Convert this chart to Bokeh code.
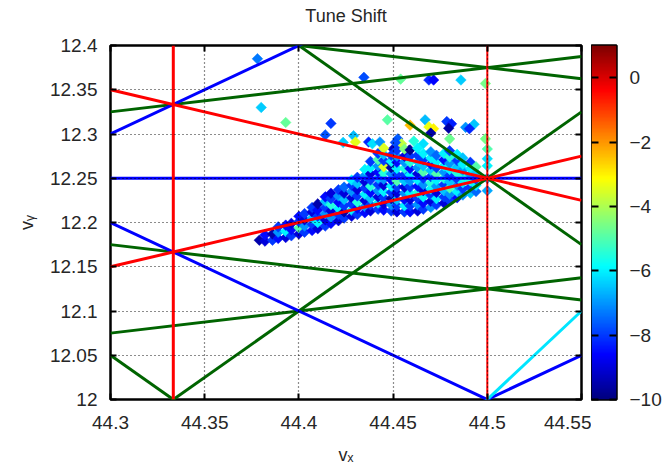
import numpy as np
from bokeh.plotting import figure
from bokeh.layouts import row, column
from bokeh.models import LinearColorMapper, FixedTicker, LinearAxis, ColumnDataSource
from bokeh.core.properties import value
from bokeh.embed import file_html
from bokeh.resources import INLINE

# ---------------- data ----------------
title_text = "Tune Shift"
x_ticks = [44.3, 44.35, 44.4, 44.45, 44.5, 44.55]
x_tick_labels = ["44.3", "44.35", "44.4", "44.45", "44.5", "44.55"]
y_ticks = [12.0, 12.05, 12.1, 12.15, 12.2, 12.25, 12.3, 12.35, 12.4]
y_tick_labels = ["12", "12.05", "12.1", "12.15", "12.2", "12.25", "12.3", "12.35", "12.4"]
cbar_ticks = [0, -2, -4, -6, -8, -10]
shift_low, shift_high = -10, 1

# resonance lines  a*nu_x + b*nu_y = c
res_a = [1, 1, 3, 3, 3, 1, 1, 1, 2, 2, 0, 2, 1, 1, 3, 2]
res_b = [-4, 4, 2, -2, 2, 4, -4, -1, 2, -2, 4, -1, 2, -2, 0, 0]
res_c = [-5, 94, 158, 109, 157, 93, -4, 32, 113, 65, 49, 77, 69, 20, 133, 89]
# styles for each resonance line (kept apart from the data)
res_color = ["#006400"] * 7 + ["#0000ff"] * 4 + ["#00e5ff"] + ["#ff0000"] * 4
res_width = [3] * 15 + [2]

# tracked particles: tune x, tune y, amplitude-dependent shift
tune_x = [
    44.378, 44.4345, 44.380, 44.393, 44.417, 44.414, 44.429, 44.430, 44.437, 44.439,
    44.443, 44.454, 44.469, 44.4715, 44.486, 44.499, 44.447, 44.459, 44.467, 44.469,
    44.4715, 44.470, 44.4785, 44.481, 44.4795, 44.4885, 44.493, 44.4905, 44.499, 44.480,
    44.4525, 44.4545, 44.450, 44.4585, 44.461, 44.466, 44.4512, 44.4235, 44.4475, 44.4440,
    44.379,
    44.382, 44.382,
    44.386, 44.386,
    44.389, 44.389, 44.389,
    44.393, 44.393, 44.393,
    44.396, 44.396, 44.396,
    44.400, 44.400, 44.400, 44.400,
    44.403, 44.403, 44.403, 44.403,
    44.407, 44.407, 44.407, 44.407, 44.407,
    44.410, 44.410, 44.410, 44.410, 44.410,
    44.414, 44.414, 44.414, 44.414, 44.414, 44.414,
    44.417, 44.417, 44.417, 44.417, 44.417, 44.417,
    44.421, 44.421, 44.421, 44.421, 44.421, 44.421,
    44.424, 44.424, 44.424, 44.424, 44.424, 44.424,
    44.428, 44.428, 44.428, 44.428, 44.428, 44.428, 44.428,
    44.431, 44.431, 44.431, 44.431, 44.431, 44.431, 44.431,
    44.435, 44.435, 44.435, 44.435, 44.435, 44.435, 44.435, 44.435,
    44.438, 44.438, 44.438, 44.438, 44.438, 44.438, 44.438, 44.438, 44.438,
    44.442, 44.442, 44.442, 44.442, 44.442, 44.442, 44.442, 44.442, 44.442, 44.442,
    44.445, 44.445, 44.445, 44.445, 44.445, 44.445, 44.445, 44.445, 44.445, 44.445, 44.445,
    44.449, 44.449, 44.449, 44.449, 44.449, 44.449, 44.449, 44.449, 44.449, 44.449,
    44.452, 44.452, 44.452, 44.452, 44.452, 44.452, 44.452, 44.452, 44.452, 44.452, 44.452,
    44.456, 44.456, 44.456, 44.456, 44.456, 44.456, 44.456, 44.456, 44.456, 44.456, 44.456,
    44.459, 44.459, 44.459, 44.459, 44.459, 44.459, 44.459, 44.459, 44.459, 44.459, 44.459,
    44.463, 44.463, 44.463, 44.463, 44.463, 44.463, 44.463, 44.463, 44.463, 44.463, 44.463,
    44.466, 44.466, 44.466, 44.466, 44.466, 44.466, 44.466, 44.466, 44.466, 44.466,
    44.470, 44.470, 44.470, 44.470, 44.470, 44.470, 44.470, 44.470, 44.470, 44.470,
    44.473, 44.473, 44.473, 44.473, 44.473, 44.473, 44.473, 44.473, 44.473,
    44.477, 44.477, 44.477, 44.477, 44.477, 44.477, 44.477, 44.477, 44.477,
    44.480, 44.480, 44.480, 44.480, 44.480, 44.480, 44.480, 44.480, 44.480,
    44.484, 44.484, 44.484, 44.484, 44.484, 44.484, 44.484, 44.484,
    44.487, 44.487, 44.487, 44.487, 44.487, 44.487, 44.487,
    44.491, 44.491, 44.491, 44.491, 44.491, 44.491,
    44.494, 44.494, 44.494, 44.494, 44.494,
    44.500, 44.500, 44.500, 44.500, 44.500,
]
tune_y = [
    12.385, 12.364, 12.330, 12.313, 12.312, 12.299, 12.298, 12.291, 12.291, 12.289,
    12.291, 12.362, 12.361, 12.361, 12.361, 12.357, 12.316, 12.310, 12.316, 12.308,
    12.306, 12.301, 12.314, 12.3115, 12.3065, 12.3075, 12.311, 12.306, 12.2945, 12.2945,
    12.2945, 12.289, 12.283, 12.2815, 12.292, 12.289, 12.2905, 12.2905, 12.2665, 12.2625,
    12.180,
    12.179, 12.186,
    12.180, 12.187,
    12.182, 12.189, 12.195,
    12.183, 12.190, 12.197,
    12.185, 12.192, 12.199,
    12.187, 12.194, 12.201, 12.207,
    12.189, 12.196, 12.203, 12.210,
    12.191, 12.198, 12.205, 12.212, 12.217,
    12.193, 12.200, 12.207, 12.214, 12.221,
    12.196, 12.203, 12.210, 12.217, 12.224, 12.229,
    12.199, 12.206, 12.213, 12.220, 12.227, 12.233,
    12.202, 12.209, 12.216, 12.223, 12.230, 12.237,
    12.205, 12.212, 12.219, 12.226, 12.233, 12.240,
    12.207, 12.214, 12.221, 12.228, 12.235, 12.242, 12.248,
    12.209, 12.216, 12.223, 12.230, 12.237, 12.244, 12.251,
    12.211, 12.218, 12.225, 12.232, 12.239, 12.246, 12.253, 12.260,
    12.213, 12.220, 12.227, 12.234, 12.241, 12.248, 12.255, 12.262, 12.269,
    12.215, 12.222, 12.229, 12.236, 12.243, 12.250, 12.257, 12.264, 12.271, 12.278,
    12.214, 12.221, 12.228, 12.235, 12.242, 12.249, 12.256, 12.263, 12.270, 12.277, 12.284,
    12.213, 12.220, 12.227, 12.234, 12.241, 12.248, 12.255, 12.262, 12.269, 12.276,
    12.212, 12.219, 12.226, 12.233, 12.240, 12.247, 12.254, 12.261, 12.268, 12.275, 12.282,
    12.212, 12.219, 12.226, 12.233, 12.240, 12.247, 12.254, 12.261, 12.268, 12.275, 12.283,
    12.212, 12.219, 12.226, 12.233, 12.240, 12.247, 12.254, 12.261, 12.268, 12.275, 12.282,
    12.213, 12.220, 12.227, 12.234, 12.241, 12.248, 12.255, 12.262, 12.269, 12.276, 12.284,
    12.215, 12.222, 12.229, 12.236, 12.243, 12.250, 12.257, 12.264, 12.271, 12.278,
    12.217, 12.224, 12.231, 12.238, 12.245, 12.252, 12.259, 12.266, 12.273, 12.280,
    12.220, 12.227, 12.234, 12.241, 12.248, 12.255, 12.262, 12.269, 12.276,
    12.222, 12.229, 12.236, 12.243, 12.250, 12.257, 12.264, 12.271, 12.278,
    12.225, 12.232, 12.239, 12.246, 12.253, 12.260, 12.267, 12.274, 12.281,
    12.228, 12.235, 12.242, 12.249, 12.256, 12.263, 12.270, 12.277,
    12.231, 12.238, 12.245, 12.252, 12.259, 12.266, 12.273,
    12.233, 12.240, 12.247, 12.254, 12.261, 12.268,
    12.235, 12.242, 12.249, 12.256, 12.263,
    12.236, 12.250, 12.264, 12.272, 12.283,
]
shift = [
    -7.3, -7.8, -6.4, -4.8, -8.0, -7.7, -6.6, -3.4, -8.2, -6.2,
    -7.0, -4.8, -8.2, -8.6, -6.4, -4.6, -4.9, -2.4, -6.6, -3.3,
    -3.0, -9.6, -8.0, -8.3, -9.6, -7.0, -6.5, -8.2, -4.6, -4.7,
    -7.6, -3.8, -9.2, -9.8, -5.5, -6.2, -7.8, -6.4, -9.4, -3.2,
    -9.5,
    -9.0, -8.5,
    -8.0, -9.5,
    -8.5, -7.0, -8.0,
    -9.0, -6.0, -8.5,
    -8.0, -8.5, -9.0,
    -9.0, -5.0, -8.0, -8.5,
    -8.0, -7.0, -9.0, -8.0,
    -8.5, -8.0, -6.5, -9.0, -8.0,
    -9.0, -6.0, -8.0, -8.5, -9.5,
    -8.0, -9.0, -7.0, -8.0, -6.5, -8.5,
    -8.5, -7.0, -9.0, -5.5, -8.0, -9.0,
    -9.0, -8.0, -6.0, -8.5, -7.0, -8.0,
    -8.0, -9.5, -8.0, -6.5, -9.0, -7.5,
    -9.0, -6.0, -8.0, -9.0, -7.0, -8.0, -6.0,
    -8.0, -8.5, -5.5, -8.0, -9.0, -6.5, -8.0,
    -8.5, -7.0, -9.0, -6.0, -8.0, -9.0, -7.0, -6.0,
    -9.0, -8.0, -6.5, -8.5, -5.5, -8.0, -9.0, -6.0, -8.0,
    -8.0, -6.0, -9.0, -7.0, -8.0, -6.5, -8.5, -7.0, -5.0, -8.0,
    -8.5, -9.0, -8.0, -6.0, -9.0, -7.0, -5.5, -3.5, -8.0, -6.5, -3.5,
    -8.0, -7.0, -9.5, -8.0, -6.0, -8.5, -7.0, -9.5, -6.0, -8.0,
    -9.0, -8.0, -6.5, -9.0, -8.0, -5.0, -8.0, -6.0, -8.5, -7.0, -8.0,
    -8.0, -6.0, -8.5, -7.0, -9.0, -6.5, -8.0, -5.5, -7.0, -9.0, -4.5,
    -8.5, -8.0, -9.0, -6.0, -8.0, -7.0, -6.0, -8.5, -5.5, -8.0, -9.8,
    -9.0, -7.0, -8.0, -5.5, -8.5, -6.0, -9.0, -7.0, -6.5, -8.0, -6.0,
    -8.0, -8.5, -6.0, -9.0, -7.0, -8.0, -5.0, -6.5, -8.0, -6.0,
    -7.0, -9.0, -8.0, -6.0, -5.5, -8.0, -6.5, -8.5, -6.0, -7.0,
    -8.0, -6.0, -9.0, -7.0, -6.0, -5.0, -8.0, -6.0, -7.5,
    -9.0, -8.0, -6.5, -8.0, -5.5, -7.0, -6.0, -8.5, -6.0,
    -8.0, -7.0, -5.0, -6.5, -8.0, -6.0, -7.0, -5.5, -8.0,
    -8.5, -6.0, -7.0, -8.0, -5.5, -6.5, -8.0, -6.0,
    -7.0, -8.0, -6.0, -5.5, -7.0, -6.0, -6.5,
    -6.5, -8.0, -5.5, -7.0, -6.0, -8.0,
    -7.5, -6.0, -8.0, -6.5, -5.0,
    -6.8, -7.0, -6.0, -6.2, -5.0,
]

# ---------------- look ----------------
FONT = "Liberation Sans"
TXT = "#262626"
TICK_FS = "19px"
TITLE_H = 30

x_lo, x_hi = x_ticks[0], x_ticks[-1]
y_lo, y_hi = y_ticks[0], y_ticks[-1]

# jet colour map
t = np.linspace(0, 1, 256)
r = np.clip(1.5 - np.abs(4 * t - 3), 0, 1)
g = np.clip(1.5 - np.abs(4 * t - 2), 0, 1)
b = np.clip(1.5 - np.abs(4 * t - 1), 0, 1)
jet = ["#%02x%02x%02x" % (int(rr * 255), int(gg * 255), int(bb * 255))
       for rr, gg, bb in zip(r, g, b)]
mapper = LinearColorMapper(palette=jet, low=shift_low, high=shift_high)

# ---------------- title strip ----------------
tf = figure(width=670, height=TITLE_H, x_range=(0, 670), y_range=(0, TITLE_H),
            output_backend="svg", toolbar_location=None, title=None,
            min_border=0, x_axis_location=None, y_axis_location=None)
tf.grid.visible = False
tf.outline_line_color = None
tf.text(x=[345.5], y=[TITLE_H / 2], text=[title_text], text_align="center",
        text_baseline="middle", text_font=value(FONT), text_font_size="18px",
        text_color=TXT)

# ---------------- main plot ----------------
p = figure(width=591, height=473 - TITLE_H, x_range=(x_lo, x_hi), y_range=(y_lo, y_hi),
           output_backend="svg", toolbar_location=None, title=None,
           min_border_left=110, min_border_right=10,
           min_border_top=45 - TITLE_H, min_border_bottom=74)
p.background_fill_color = "white"
p.border_fill_color = "white"
p.outline_line_color = "black"
p.outline_line_width = 2.5

# particles
src = ColumnDataSource(dict(x=tune_x, y=tune_y, s=shift))
p.scatter("x", "y", source=src, marker="square", angle=np.pi / 4, size=7.5,
          fill_color={"field": "s", "transform": mapper},
          line_color={"field": "s", "transform": mapper}, line_width=0.5)

# resonance lines
x0s, y0s, x1s, y1s = [], [], [], []
for a_, b_, c_ in zip(res_a, res_b, res_c):
    if b_ == 0:
        xv = c_ / a_
        x0s.append(xv); x1s.append(xv); y0s.append(y_lo); y1s.append(y_hi)
    else:
        x0s.append(x_lo); x1s.append(x_hi)
        y0s.append((c_ - a_ * x_lo) / b_); y1s.append((c_ - a_ * x_hi) / b_)
p.segment(x0s, y0s, x1s, y1s, color=res_color, line_width=res_width)

# axes
xt = FixedTicker(ticks=x_ticks, minor_ticks=[])
yt = FixedTicker(ticks=y_ticks, minor_ticks=[])
for ax, tk, labs in ((p.xaxis[0], xt, x_tick_labels), (p.yaxis[0], yt, y_tick_labels)):
    ax.ticker = tk
    ax.major_label_overrides = {v: s for v, s in zip(tk.ticks, labs)}
    ax.axis_line_color = None
    ax.major_tick_in = 6
    ax.major_tick_out = 0
    ax.major_tick_line_width = 2
    ax.major_tick_line_color = "black"
    ax.minor_tick_line_color = None
    ax.major_label_text_font = FONT
    ax.major_label_text_font_size = TICK_FS
    ax.major_label_text_color = TXT
    ax.axis_label_text_font = FONT
    ax.axis_label_text_font_style = "normal"
    ax.axis_label_text_font_size = "18px"
    ax.axis_label_text_color = TXT
p.xaxis[0].major_label_standoff = 16
p.yaxis[0].major_label_standoff = 13
p.xaxis[0].axis_label = "v\u2093"
p.yaxis[0].axis_label = "v\u1d67"
p.xaxis[0].axis_label_standoff = 13
p.yaxis[0].axis_label_standoff = 10

for loc, tk in (("above", xt), ("right", yt)):
    ax = LinearAxis(ticker=tk, axis_line_color=None, major_tick_in=6, major_tick_out=0,
                    major_tick_line_width=2, minor_tick_line_color=None,
                    major_label_text_color=None, major_label_standoff=0)
    p.add_layout(ax, loc)

# grid (dotted, on top)
for gr, tk in ((p.xgrid[0], xt), (p.ygrid[0], yt)):
    gr.ticker = tk
    gr.grid_line_color = "black"
    gr.grid_line_dash = "1 3"
    gr.grid_line_width = 1.2
    gr.grid_line_alpha = 0.9
    gr.level = "overlay"

# ---------------- colour bar as its own small figure ----------------
cbf = figure(width=79, height=473 - TITLE_H, x_range=(0, 1), y_range=(shift_low, shift_high),
             output_backend="svg", toolbar_location=None, title=None,
             min_border_left=0, min_border_right=54,
             min_border_top=45 - TITLE_H, min_border_bottom=73,
             x_axis_location=None, y_axis_location="right")
cbf.grid.visible = False
cbf.outline_line_color = "black"
cbf.outline_line_width = 2.5
cbf.border_fill_color = "white"
grad = np.linspace(shift_low, shift_high, 256).reshape(256, 1)
cbf.image(image=[grad], x=0, y=shift_low, dw=1, dh=shift_high - shift_low,
          color_mapper=mapper)
ct = FixedTicker(ticks=cbar_ticks, minor_ticks=[])
ya = cbf.yaxis[0]
ya.ticker = ct
ya.axis_line_color = None
ya.major_tick_in = 7
ya.major_tick_out = 0
ya.major_tick_line_width = 2
ya.major_tick_line_color = "black"
ya.minor_tick_line_color = None
ya.major_label_text_font = FONT
ya.major_label_text_font_size = TICK_FS
ya.major_label_text_color = TXT
ya.major_label_standoff = 13
cbf.add_layout(LinearAxis(ticker=ct, axis_line_color=None, major_tick_in=7, major_tick_out=0,
                          major_tick_line_width=2, minor_tick_line_color=None,
                          major_label_text_color=None, major_label_standoff=0), "left")

layout = column(tf, row(p, cbf))
open("out.html", "w").write(file_html(layout, INLINE))
